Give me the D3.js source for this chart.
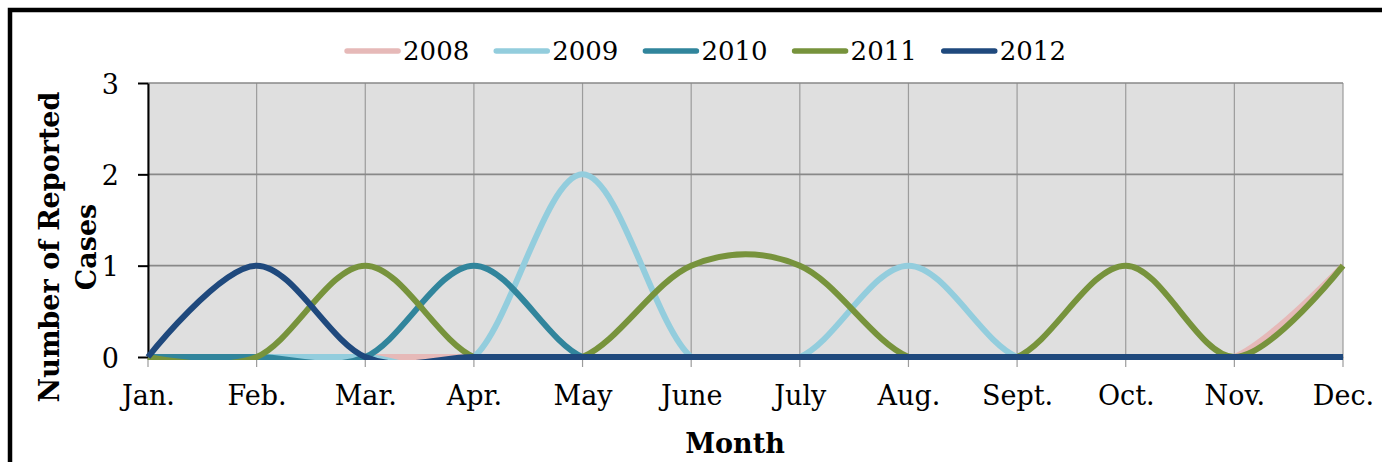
<!DOCTYPE html>
<html>
<head>
<meta charset="utf-8">
<script src="https://cdn.jsdelivr.net/npm/d3@7"></script>
<style>
  body { margin: 0; background: #fff; }
  text { font-family: "DejaVu Serif", serif; fill: #000; }
</style>
</head>
<body>
<script>

// months along the x axis
var months = ["Jan.", "Feb.", "Mar.", "Apr.", "May", "June", "July", "Aug.", "Sept.", "Oct.", "Nov.", "Dec."];
var years = ["2008", "2009", "2010", "2011", "2012"];

// reported cases per month, one array per year
var cases2008 = [0, 0, 0, 0, 0, 0, 0, 0, 0, 0, 0, 1];
var cases2009 = [0, 0, 0, 0, 2, 0, 0, 1, 0, 0, 0, 0];
var cases2010 = [0, 0, 0, 1, 0, 0, 0, 0, 0, 0, 0, 0];
var cases2011 = [0, 0, 1, 0, 0, 1, 1, 0, 0, 1, 0, 1];
var cases2012 = [0, 1, 0, 0, 0, 0, 0, 0, 0, 0, 0, 0];

var yTicks = [0, 1, 2, 3];

var series = [cases2008, cases2009, cases2010, cases2011, cases2012];

var margin = {top: 83, right: 39, bottom: 105, left: 148},
    W = 1382, H = 462,
    width = W - margin.left - margin.right,
    height = H - margin.top - margin.bottom;

var x = d3.scalePoint()
    .domain(months)
    .range([0, width]);

var y = d3.scaleLinear()
    .domain([0, 3])
    .range([height, 0]);

var color = d3.scaleOrdinal()
    .domain(years)
    .range(["#e6b9b8", "#93cddd", "#31859c", "#77933c", "#1f497d"]);

var svg = d3.select("body").append("svg")
    .attr("width", W)
    .attr("height", H);

// outer frame (runs off the right and bottom edge)
svg.append("rect")
    .attr("x", 10)
    .attr("y", 10)
    .attr("width", W + 20)
    .attr("height", H + 20)
    .attr("fill", "none")
    .attr("stroke", "#000")
    .attr("stroke-width", 4.5);

var g = svg.append("g")
    .attr("transform", "translate(" + margin.left + "," + margin.top + ")");

// excel clips the smoothed lines just under the plot area
g.append("clipPath")
    .attr("id", "plotclip")
  .append("rect")
    .attr("x", -6)
    .attr("y", -6)
    .attr("width", width + 12)
    .attr("height", height + 9);

// plot background
g.append("rect")
    .attr("width", width)
    .attr("height", height)
    .attr("fill", "#dfdfdf");

// vertical grid + x ticks
g.selectAll(".vgrid")
    .data(months)
  .enter().append("line")
    .attr("class", "vgrid")
    .attr("x1", function(d) { return x(d); })
    .attr("x2", function(d) { return x(d); })
    .attr("y1", 0)
    .attr("y2", height + 10)
    .attr("stroke", "#9c9c9c")
    .attr("stroke-width", 1.2);

// horizontal grid
g.selectAll(".hgrid")
    .data(yTicks.slice(1))
  .enter().append("line")
    .attr("class", "hgrid")
    .attr("x1", 0)
    .attr("x2", width)
    .attr("y1", function(d) { return y(d); })
    .attr("y2", function(d) { return y(d); })
    .attr("stroke", "#888")
    .attr("stroke-width", 1.6);

// x axis labels
var xAxis = d3.axisBottom(x).tickSize(0).tickPadding(29);
g.append("g")
    .attr("class", "x axis")
    .attr("transform", "translate(0," + height + ")")
    .call(xAxis)
    .call(function(s) {
      s.select(".domain").attr("stroke", "#888").attr("stroke-width", 1.5);
      s.selectAll("text").attr("font-size", 27).attr("font-family", "DejaVu Serif");
    });

// y axis
var yAxis = d3.axisLeft(y)
    .tickValues(yTicks)
    .tickFormat(d3.format("d"))
    .tickSize(10)
    .tickPadding(19)
    .tickSizeOuter(0);
g.append("g")
    .attr("class", "y axis")
    .call(yAxis)
    .call(function(s) {
      s.select(".domain").attr("stroke", "#000").attr("stroke-width", 2);
      s.selectAll(".tick line").attr("stroke", "#000").attr("stroke-width", 2);
      s.selectAll("text").attr("font-size", 27).attr("font-family", "DejaVu Serif").attr("dy", "0.38em");
    });

// smoothed lines (Excel style)
var line = d3.line()
    .x(function(d, i) { return x(months[i]); })
    .y(function(d) { return y(d); })
    .curve(d3.curveCardinal.tension(0));

g.append("g")
    .attr("clip-path", "url(#plotclip)")
  .selectAll(".series")
    .data(series)
  .enter().append("path")
    .attr("class", "series")
    .attr("d", line)
    .attr("fill", "none")
    .attr("stroke", function(d, i) { return color(years[i]); })
    .attr("stroke-width", 6)
    .attr("stroke-linejoin", "round");

// axis titles
svg.append("text")
    .attr("x", 735)
    .attr("y", 453)
    .attr("text-anchor", "middle")
    .attr("font-size", 27)
    .attr("font-weight", "bold")
    .text("Month");

var yTitle = svg.append("text")
    .attr("transform", "translate(59,247) rotate(-90)")
    .attr("text-anchor", "middle")
    .attr("font-size", 27)
    .attr("font-weight", "bold");
yTitle.append("tspan").attr("x", 0).attr("y", 0).text("Number of Reported");
yTitle.append("tspan").attr("x", 0).attr("y", 37).text("Cases");

// legend
var legend = svg.append("g").attr("class", "legend");
var items = legend.selectAll(".item")
    .data(years)
  .enter().append("g")
    .attr("class", "item");

items.append("line")
    .attr("x1", 3)
    .attr("x2", 54)
    .attr("y1", 0)
    .attr("y2", 0)
    .attr("stroke", color)
    .attr("stroke-width", 5.5)
    .attr("stroke-linecap", "round");

items.append("text")
    .attr("x", 59)
    .attr("y", 0)
    .attr("dy", "0.36em")
    .attr("font-size", 26)
    .text(function(d) { return d; });

var gap = 24, pos = 0, offsets = [];
items.each(function() {
  offsets.push(pos);
  pos += 59 + this.querySelector("text").getComputedTextLength() + gap;
});
var total = pos - gap;
var start = 705 - total / 2;
items.attr("transform", function(d, i) { return "translate(" + (start + offsets[i]) + ",51)"; });

</script>
</body>
</html>
